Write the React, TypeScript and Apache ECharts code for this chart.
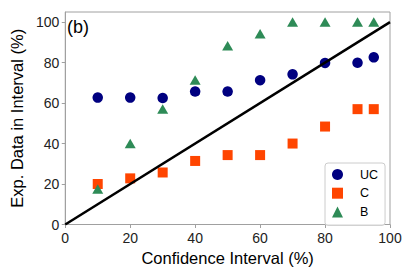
import React, { useEffect, useRef } from "react";
import * as echarts from "echarts";

const xTicks = [0, 20, 40, 60, 80, 100];
const yTicks = [0, 20, 40, 60, 80, 100];
const confidence = [10, 20, 30, 40, 50, 60, 70, 80, 90, 95];
const ucValues = [62.7, 62.7, 62.5, 65.7, 65.7, 71.3, 74.2, 79.8, 79.9, 82.6];
const cValues = [20, 22.8, 25.7, 31.4, 34.3, 34.3, 40, 48.4, 57, 57];
const bValues = [17.5, 40, 57.1, 71.4, 88.3, 94.2, 100, 100, 100, 100];
const diagonal = [0, 100];

const FONT = "'Liberation Sans', Arial, Helvetica, sans-serif";

export default function App() {
  const ref = useRef<HTMLDivElement>(null);
  useEffect(() => {
    if (!ref.current) return;
    const chart = echarts.init(ref.current, null, { renderer: "svg" });
    const pairs = (vals: number[]) => confidence.map((x, i) => [x, vals[i]]);
    chart.setOption({
      animation: false,
      textStyle: { fontFamily: FONT },
      grid: {
        left: 63,
        right: 25,
        top: 12,
        bottom: 52.5,
        show: true,
        borderColor: "#a0a0a0",
        borderWidth: 1,
      },
      xAxis: {
        type: "value",
        min: 0,
        max: 100,
        interval: 20,
        name: "Confidence Interval (%)",
        nameLocation: "middle",
        nameGap: 18,
        nameTextStyle: { fontSize: 16.5, color: "#000", fontFamily: FONT },
        axisLine: { onZero: false, lineStyle: { color: "#a0a0a0", width: 1 } },
        axisTick: { show: true, length: 3.5, lineStyle: { color: "#a0a0a0" }, customValues: xTicks },
        axisLabel: { fontSize: 14, color: "#222", margin: 6, fontFamily: FONT, customValues: xTicks },
        splitLine: { show: false },
      },
      yAxis: {
        type: "value",
        min: 0,
        max: 105,
        interval: 20,
        name: "Exp. Data in Interval (%)",
        nameLocation: "middle",
        nameGap: 30,
        nameTextStyle: { fontSize: 16.5, color: "#000", fontFamily: FONT },
        axisLine: { show: true, onZero: false, lineStyle: { color: "#a0a0a0", width: 1 } },
        axisTick: { show: true, length: 3.5, lineStyle: { color: "#a0a0a0" }, customValues: yTicks },
        axisLabel: { fontSize: 14, color: "#222", margin: 6, fontFamily: FONT, customValues: yTicks },
        splitLine: { show: false },
      },
      legend: {
        orient: "vertical",
        left: 325,
        top: 163,
        itemWidth: 11,
        itemHeight: 11,
        itemGap: 5.7,
        padding: [5, 7, 7, 7],
        borderColor: "#cccccc",
        borderWidth: 1,
        borderRadius: 3,
        backgroundColor: "rgba(255,255,255,0.8)",
        textStyle: {
          fontSize: 12.5,
          color: "#000",
          fontFamily: FONT,
          lineHeight: 11,
          padding: [0, 0, 0, 12],
        },
        data: [
          { name: "UC", icon: "circle" },
          { name: "C", icon: "rect" },
          { name: "B", icon: "triangle" },
        ],
      },
      graphic: [
        {
          type: "text",
          left: 67,
          top: 18,
          style: { text: "(b)", fontSize: 18, fill: "#000", fontFamily: FONT },
        },
      ],
      series: [
        {
          name: "UC",
          type: "scatter",
          symbol: "circle",
          symbolSize: 10.5,
          itemStyle: { color: "#000080", opacity: 1 },
          data: pairs(ucValues),
          z: 2,
        },
        {
          name: "C",
          type: "scatter",
          symbol: "rect",
          symbolSize: 10,
          itemStyle: { color: "#ff4500", opacity: 1 },
          data: pairs(cValues),
          z: 2,
        },
        {
          name: "B",
          type: "scatter",
          symbol: "triangle",
          symbolSize: [11, 9.5],
          itemStyle: { color: "#2e8b57", opacity: 1 },
          data: pairs(bValues),
          z: 2,
        },
        {
          name: "diag",
          type: "line",
          showSymbol: false,
          symbol: "none",
          lineStyle: { color: "#000", width: 2.5 },
          data: diagonal.map((v) => [v, v]),
          z: 5,
          silent: true,
        },
      ],
    });
    return () => chart.dispose();
  }, []);
  return (
    <div
      ref={ref}
      style={{ position: "absolute", left: 0, top: 0, width: 415, height: 277 }}
    />
  );
}
